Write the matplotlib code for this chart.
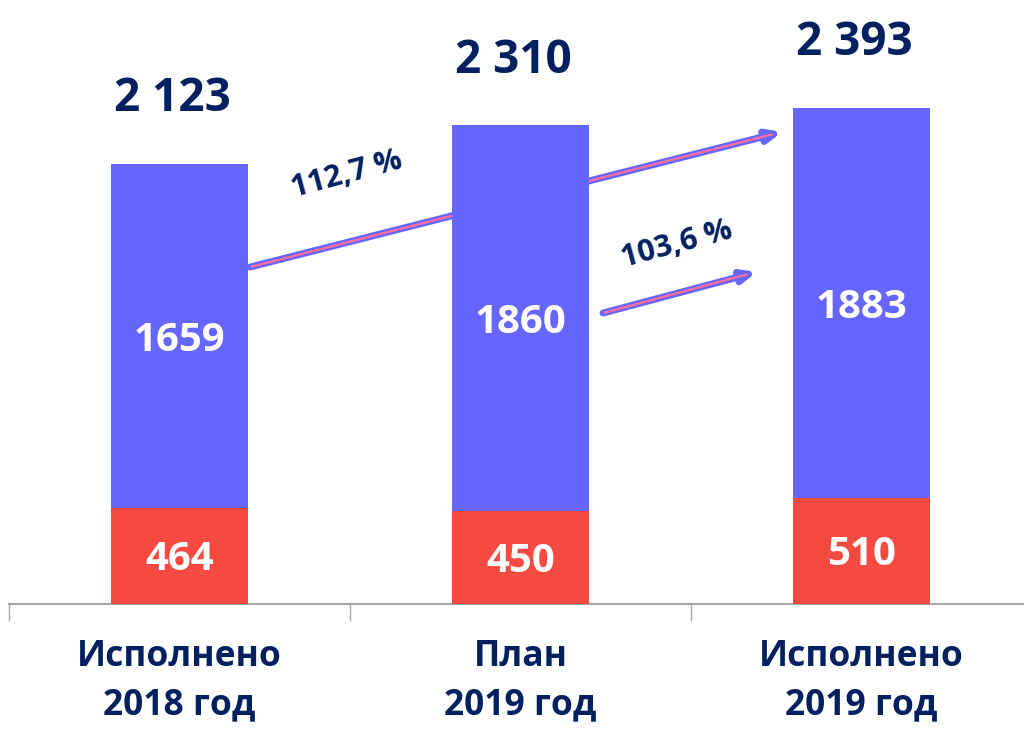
import matplotlib.pyplot as plt

categories = ['Исполнено\n2018 год', 'План\n2019 год', 'Исполнено\n2019 год']
red_vals = [464, 450, 510]
blue_vals = [1659, 1860, 1883]
totals = ['2 123', '2 310', '2 393']
growth = ['112,7 %', '103,6 %']

BLUE = '#6666FF'
RED = '#F44A41'
NAVY = '#002060'
PINK = '#FF6F9A'

plt.rcParams['font.family'] = ['Open Sans', 'DejaVu Sans']

fig = plt.figure(figsize=(10.24, 7.29), dpi=100)
ax = fig.add_axes([0.0088, 0.1715, 0.999, 0.8243])

x = range(len(categories))
ax.bar(x, red_vals, width=0.4, color=RED, zorder=3)
ax.bar(x, blue_vals, width=0.4, bottom=red_vals, color=BLUE, zorder=3)

for i in x:
    ax.text(i, red_vals[i] / 2 - 18, str(red_vals[i]), ha='center', va='center',
            color='white', fontsize=29, fontweight='bold', zorder=4)
    ax.text(i, red_vals[i] + blue_vals[i] / 2 - 22, str(blue_vals[i]), ha='center',
            va='center', color='white', fontsize=29, fontweight='bold', zorder=4)
    ax.text(i - 0.02, red_vals[i] + blue_vals[i] + 315, totals[i], ha='center',
            va='center', color=NAVY, fontsize=33, fontweight='bold')

# growth arrows (behind bars)
arrows = [((0.207, 1626), (1.767, 2278)), ((1.242, 1404), (1.693, 1602))]
for (x0, y0), (x1, y1) in arrows:
    ax.annotate('', xy=(x1, y1), xytext=(x0, y0), zorder=2,
                arrowprops=dict(arrowstyle='-|>,head_length=0.8,head_width=0.35',
                                color=BLUE, lw=5, shrinkA=0, shrinkB=0))
    ax.annotate('', xy=(x1 - 0.03, y1 - 12), xytext=(x0 + 0.005, y0 + 2), zorder=2,
                arrowprops=dict(arrowstyle='-', color=PINK, lw=1.6,
                                shrinkA=0, shrinkB=0))

ax.text(0.49, 2070, growth[0], rotation=15, ha='center', va='center',
        color=NAVY, fontsize=22, fontweight='bold')
ax.text(1.458, 1733, growth[1], rotation=15, ha='center', va='center',
        color=NAVY, fontsize=22, fontweight='bold')

ax.set_xlim(-0.5, 2.5)
ax.set_ylim(0, 2900)
for s in ['top', 'right', 'left']:
    ax.spines[s].set_visible(False)
ax.spines['bottom'].set_color('#A6A6A6')
ax.spines['bottom'].set_linewidth(1.5)
ax.set_yticks([])
ax.set_xticks(list(x))
ax.set_xticklabels(categories, fontsize=25.5, fontweight='bold', color=NAVY,
                   linespacing=1.45)
ax.tick_params(axis='x', which='major', length=0, pad=25)
ax.set_xticks([-0.5, 0.5, 1.5, 2.5], minor=True)
ax.tick_params(axis='x', which='minor', length=12, color='#A6A6A6', width=1)

fig.savefig('out.png', dpi=100)
